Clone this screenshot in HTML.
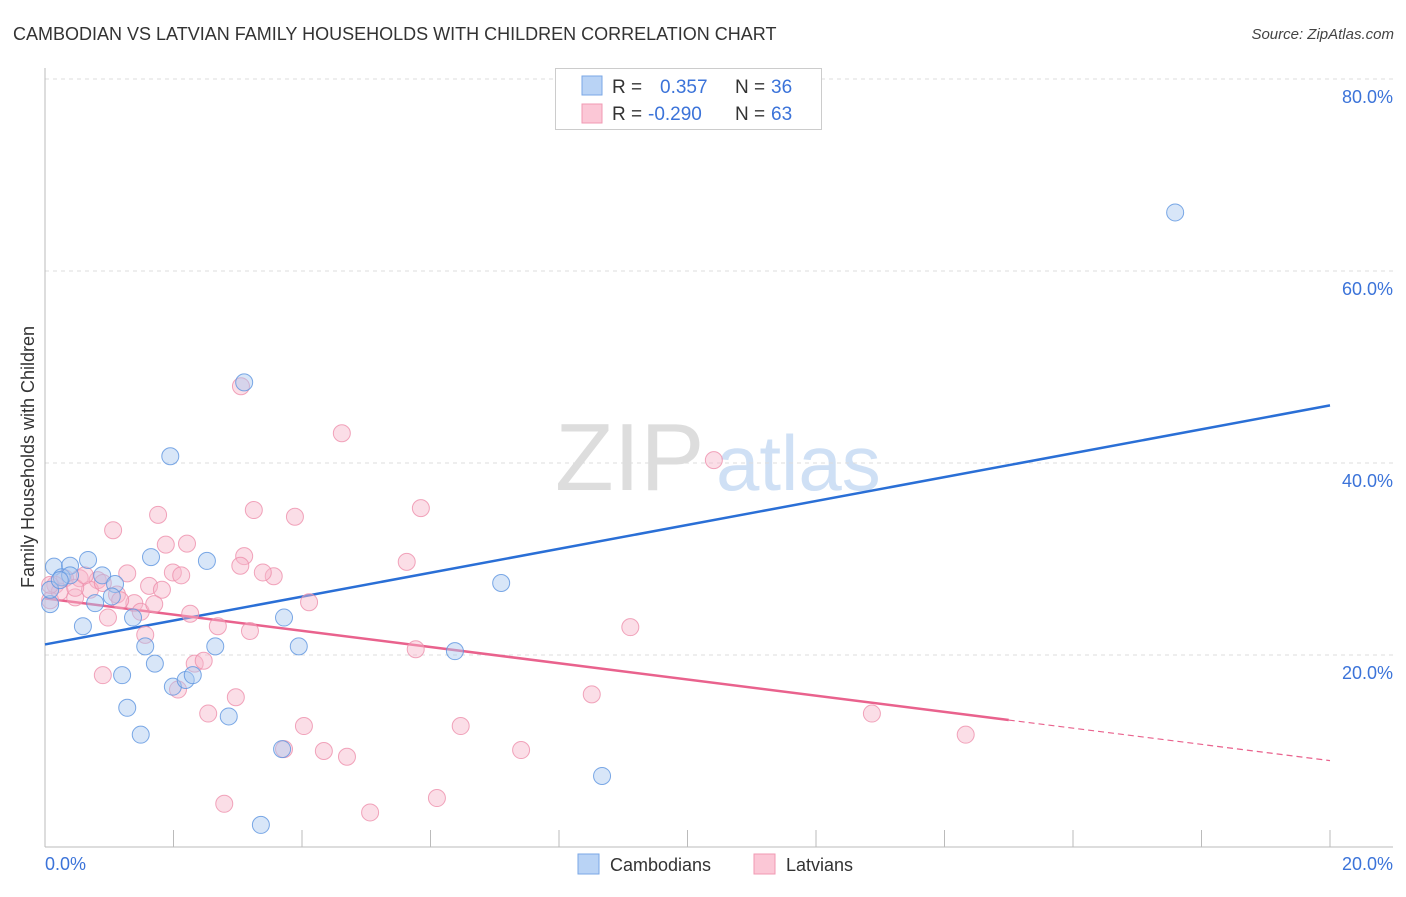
<!DOCTYPE html>
<html><head><meta charset="utf-8"><style>
body{margin:0;background:#fff;font-family:"Liberation Sans",sans-serif}
svg text{font-family:"Liberation Sans",sans-serif}
</style></head><body>
<svg id="chart" width="1406" height="892" viewBox="0 0 1406 892">
<text x="13" y="40" font-size="18" fill="#333">CAMBODIAN VS LATVIAN FAMILY HOUSEHOLDS WITH CHILDREN CORRELATION CHART</text>
<text x="1394" y="39" font-size="15" fill="#444" font-style="italic" text-anchor="end">Source: ZipAtlas.com</text>
<text x="555" y="490" font-size="96" fill="#ddd" font-family="Liberation Serif, serif">ZIP</text>
<text x="716" y="490" font-size="78" fill="#cfe0f5">atlas</text>
<text transform="translate(34,457) rotate(-90)" font-size="18" fill="#333" text-anchor="middle">Family Households with Children</text>
<g id="grid"></g><g id="axes"></g><g id="lines"></g><g id="pts"></g>
<g>
<rect x="555.5" y="68.5" width="266" height="61" fill="#fff" stroke="#ccc"/>
<rect x="582" y="76" width="20" height="19" fill="#b9d3f5" stroke="#7aa7e6"/>
<rect x="582" y="104" width="20" height="19" fill="#fbc7d6" stroke="#f09ab3"/>
<text x="612" y="93" font-size="19" fill="#333">R =</text>
<text x="660" y="93" font-size="19" fill="#3b73d9">0.357</text>
<text x="735" y="93" font-size="19" fill="#333">N =</text>
<text x="771" y="93" font-size="19" fill="#3b73d9">36</text>
<text x="612" y="120" font-size="19" fill="#333">R =</text>
<text x="648" y="120" font-size="19" fill="#3b73d9">-0.290</text>
<text x="735" y="120" font-size="19" fill="#333">N =</text>
<text x="771" y="120" font-size="19" fill="#3b73d9">63</text>
</g>
<g>
<rect x="578" y="854" width="21" height="20" fill="#b9d3f5" stroke="#7aa7e6"/>
<text x="610" y="871" font-size="18" fill="#333">Cambodians</text>
<rect x="754" y="854" width="21" height="20" fill="#fbc7d6" stroke="#f09ab3"/>
<text x="786" y="871" font-size="18" fill="#333">Latvians</text>
</g>
</svg>
<script>
const yTicks=[20,40,60,80];
const yTickLabels=["20.0%","40.0%","60.0%","80.0%"];
const xTickLabels=["0.0%","20.0%"];
const blueX=[17.59,3.10,1.95,1.65,2.52,0.67,0.14,0.39,0.26,0.89,1.09,0.78,1.04,0.08,0.59,1.37,3.72,7.10,1.56,2.65,3.95,6.38,1.71,1.20,1.99,2.19,2.30,1.28,2.86,1.49,3.69,8.67,3.36,0.08,0.39,0.23];
const blueY=[66.1,48.4,40.7,30.2,29.8,29.9,29.2,29.3,28.1,28.3,27.4,25.4,26.1,25.3,23.0,23.9,23.9,27.5,20.9,20.9,20.9,20.4,19.1,17.9,16.7,17.4,17.9,14.5,13.6,11.7,10.2,7.4,2.3,26.8,28.3,27.8];
const pinkX=[3.05,4.62,10.41,1.06,1.76,3.25,3.89,5.85,1.88,2.21,3.10,3.04,5.63,3.56,1.99,2.12,1.28,1.62,1.82,0.82,0.54,0.31,0.16,0.08,0.23,0.47,0.70,0.90,1.12,1.39,0.98,1.49,1.70,2.26,4.11,3.19,2.69,9.11,1.56,5.77,2.33,2.47,0.90,2.07,2.97,8.51,2.54,4.03,6.47,12.87,3.72,4.34,4.70,7.41,14.33,2.79,6.10,5.06,0.08,0.47,0.62,1.17,3.39];
const pinkY=[48.0,43.1,40.3,33.0,34.6,35.1,34.4,35.3,31.5,31.6,30.3,29.3,29.7,28.2,28.6,28.3,28.5,27.2,26.8,27.8,28.0,28.0,27.3,25.7,26.6,26.0,26.8,27.5,26.3,25.4,23.9,24.5,25.3,24.3,25.5,22.5,23.0,22.9,22.1,20.6,19.1,19.4,17.9,16.4,15.6,15.9,13.9,12.6,12.6,13.9,10.2,10.0,9.4,10.1,11.7,4.5,5.1,3.6,27.3,27.0,28.3,25.7,28.6];
const blueLine=[21.1,46.0];   // y at x=0 and x=20
const pinkLine=[25.9,9.0];
const pinkSolidEnd=15;
const NS="http://www.w3.org/2000/svg";
const X0=45,X1=1330,Y0=847,YP=9.6;
const sx=v=>X0+v*(X1-X0)/20, sy=v=>Y0-v*YP;
function mk(tag,attrs,parent){const e=document.createElementNS(NS,tag);for(const k in attrs)e.setAttribute(k,attrs[k]);document.getElementById(parent).appendChild(e);return e;}
yTicks.forEach((t,i)=>{
  const l=mk('line',{x1:X0,x2:1393,y1:sy(t),y2:sy(t),stroke:'#ddd','stroke-dasharray':'4 4'},'grid');
  
  
  const tx=mk('text',{x:1393,y:sy(t)+24,'font-size':18,fill:'#3b73d9','text-anchor':'end'},'grid');
  tx.textContent=yTickLabels[i];
  
  
});
let a=mk('line',{x1:X0,x2:X0,y1:68,y2:Y0,stroke:'#bbb'},'axes');


a=mk('line',{x1:X0,x2:1393,y1:Y0,y2:Y0,stroke:'#bbb'},'axes');


for(let i=0;i<=10;i++){
  const t=mk('line',{x1:sx(i*2),x2:sx(i*2),y1:830,y2:Y0,stroke:'#bbb'},'axes');
  
  
}
[[0,'start',45],[20,'end',1393]].forEach((d,i)=>{
  const t=mk('text',{x:d[2],y:870,'font-size':18,fill:'#3b73d9','text-anchor':d[1]},'axes');
  t.textContent=xTickLabels[i];
  
  
});
function pts(xs,ys,fill,stroke,name){
  xs.forEach((x,i)=>{
    const c=mk('circle',{cx:sx(x),cy:sy(ys[i]),r:8.5,fill:fill,'fill-opacity':0.45,stroke:stroke,'stroke-opacity':0.8,'stroke-width':1},'pts');
    
    
  });
}
pts(pinkX,pinkY,'#f7b6c9','#ee8fab','latvian-point');
pts(blueX,blueY,'#a9c8f0','#5b93e0','cambodian-point');
let ln=mk('line',{x1:sx(0),y1:sy(blueLine[0]),x2:sx(20),y2:sy(blueLine[1]),stroke:'#2a6fd6','stroke-width':2.5},'lines');


const py=x=>pinkLine[0]+(pinkLine[1]-pinkLine[0])*x/20;
ln=mk('line',{x1:sx(0),y1:sy(py(0)),x2:sx(pinkSolidEnd),y2:sy(py(pinkSolidEnd)),stroke:'#e9628d','stroke-width':2.5},'lines');


ln=mk('line',{x1:sx(pinkSolidEnd),y1:sy(py(pinkSolidEnd)),x2:sx(20),y2:sy(py(20)),stroke:'#e9628d','stroke-width':1.2,'stroke-dasharray':'6 4'},'lines');


</script>
</body></html>
